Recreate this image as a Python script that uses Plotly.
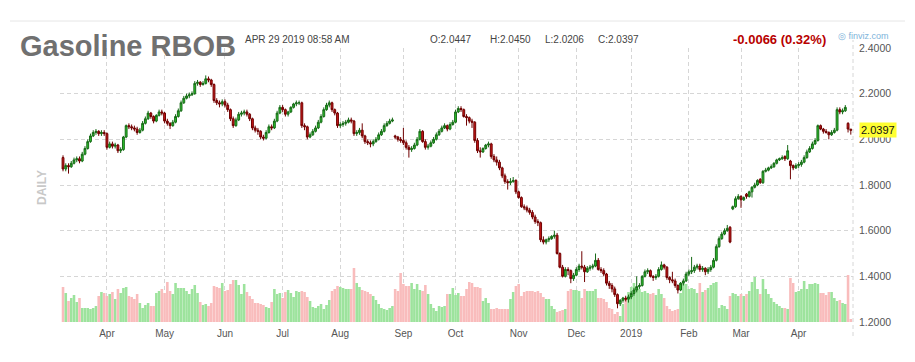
import pandas as pd
import plotly.graph_objects as go

# ---- trading calendar (category axis) ----
holidays = ["2018-03-30", "2018-05-28", "2018-07-04", "2018-09-03", "2018-11-22",
            "2018-12-25", "2019-01-01", "2019-01-21", "2019-02-18", "2019-04-19"]
dates = [d.strftime("%Y-%m-%d") for d in pd.bdate_range("2018-03-08", "2019-04-29")
         if d.strftime("%Y-%m-%d") not in holidays]

month_labels = ["Apr", "May", "Jun", "Jul", "Aug", "Sep", "Oct", "Nov", "Dec",
                "2019", "Feb", "Mar", "Apr"]
price_ticks = [1.2, 1.4, 1.6, 1.8, 2.0, 2.2, 2.4]

opens = [
    1.920, 1.870, 1.885, 1.880, 1.895, 1.910, 1.915, 1.905, 1.935, 1.960, 1.990, 2.015, 2.030, 2.035, 2.025, 2.030,
    2.025, 1.965, 1.980, 1.970, 1.975, 1.950, 1.955, 2.010, 2.060, 2.055, 2.050, 2.045, 2.030, 2.040, 2.070, 2.090, 2.115, 2.100, 2.080, 2.105, 2.120,
    2.115, 2.080, 2.070, 2.060, 2.075, 2.100, 2.125, 2.160, 2.180, 2.190, 2.195, 2.200, 2.245, 2.250, 2.240, 2.245, 2.265, 2.260, 2.240, 2.170, 2.160, 2.155,
    2.165, 2.150, 2.130, 2.090, 2.060, 2.085, 2.110, 2.115, 2.120, 2.110, 2.090, 2.050, 2.040, 2.035, 2.010, 2.005, 2.030, 2.055, 2.050, 2.080, 2.115,
    2.140, 2.130, 2.110, 2.120, 2.140, 2.155, 2.160, 2.160, 2.060, 2.055, 2.010, 2.020, 2.035, 2.050, 2.075, 2.100, 2.130, 2.150, 2.160, 2.130, 2.115,
    2.060, 2.065, 2.070, 2.075, 2.085, 2.080, 2.025, 2.030, 2.040, 2.015, 1.990, 1.985, 1.980, 1.990, 2.000, 2.020, 2.035, 2.060, 2.070, 2.080, 2.015, 2.010, 2.000,
    1.995, 1.985, 1.965, 1.955, 1.960, 1.975, 2.000, 2.035, 1.990, 1.965, 1.970, 1.985, 2.000, 2.020, 2.035, 2.050, 2.060, 2.045, 2.065,
    2.075, 2.120, 2.135, 2.130, 2.100, 2.095, 2.080, 2.075, 1.995, 1.950, 1.945, 1.960, 1.975, 1.980, 1.925, 1.910, 1.900, 1.875, 1.840, 1.815, 1.810, 1.815, 1.820,
    1.770, 1.745, 1.705, 1.700, 1.690, 1.680, 1.660, 1.640, 1.635, 1.560, 1.550, 1.560, 1.565, 1.575, 1.580, 1.500, 1.440, 1.400, 1.430, 1.425, 1.390,
    1.405, 1.430, 1.445, 1.440, 1.420, 1.435, 1.440, 1.445, 1.470, 1.430, 1.425, 1.410, 1.370, 1.360, 1.345, 1.320, 1.280, 1.295, 1.305, 1.300,
    1.310, 1.325, 1.340, 1.355, 1.360, 1.400, 1.420, 1.425, 1.400, 1.395, 1.400, 1.430, 1.450, 1.440, 1.395, 1.385, 1.380, 1.360, 1.340, 1.370, 1.380,
    1.410, 1.420, 1.425, 1.440, 1.445, 1.430, 1.435, 1.420, 1.430, 1.440, 1.470, 1.530, 1.565, 1.585, 1.600, 1.615, 1.695, 1.705, 1.740,
    1.750, 1.735, 1.760, 1.750, 1.770, 1.790, 1.800, 1.825, 1.810, 1.860, 1.865, 1.875, 1.880, 1.895, 1.910, 1.915, 1.925, 1.915, 1.905, 1.885, 1.875,
    1.885, 1.890, 1.900, 1.920, 1.945, 1.960, 1.980, 1.995, 2.060, 2.045, 2.035, 2.030, 2.020, 2.030, 2.040, 2.130, 2.120, 2.125, 2.070, 2.0447,
]
highs = [
    1.930, 1.895, 1.895, 1.905, 1.920, 1.925, 1.925, 1.945, 1.970, 2.000, 2.025, 2.040, 2.045, 2.040, 2.040, 2.040,
    2.030, 1.990, 1.990, 1.985, 1.980, 1.965, 2.015, 2.065, 2.070, 2.065, 2.060, 2.055, 2.050, 2.080, 2.100, 2.125, 2.120, 2.105, 2.110, 2.130, 2.130,
    2.120, 2.090, 2.075, 2.085, 2.110, 2.135, 2.170, 2.190, 2.200, 2.205, 2.210, 2.255, 2.260, 2.255, 2.255, 2.280, 2.275, 2.265, 2.245, 2.180, 2.170, 2.175,
    2.175, 2.160, 2.135, 2.100, 2.095, 2.120, 2.125, 2.130, 2.130, 2.115, 2.095, 2.060, 2.050, 2.040, 2.020, 2.040, 2.065, 2.065, 2.090, 2.125, 2.150,
    2.150, 2.135, 2.125, 2.145, 2.160, 2.170, 2.170, 2.165, 2.070, 2.060, 2.030, 2.045, 2.060, 2.085, 2.110, 2.140, 2.160, 2.170, 2.165, 2.135, 2.120,
    2.075, 2.080, 2.085, 2.095, 2.095, 2.085, 2.040, 2.050, 2.070, 2.020, 2.000, 1.995, 2.000, 2.010, 2.030, 2.045, 2.070, 2.080, 2.090, 2.095, 2.020, 2.015, 2.010,
    2.050, 1.995, 1.975, 1.970, 1.985, 2.010, 2.045, 2.040, 2.000, 1.980, 1.995, 2.010, 2.030, 2.045, 2.060, 2.070, 2.065, 2.075, 2.085,
    2.130, 2.145, 2.145, 2.135, 2.110, 2.100, 2.090, 2.080, 2.005, 1.965, 1.965, 1.980, 1.990, 1.985, 1.935, 1.925, 1.910, 1.880, 1.850, 1.825, 1.830, 1.835, 1.825,
    1.775, 1.750, 1.715, 1.710, 1.700, 1.690, 1.670, 1.650, 1.640, 1.575, 1.565, 1.575, 1.580, 1.600, 1.590, 1.505, 1.450, 1.440, 1.440, 1.430, 1.415,
    1.440, 1.455, 1.510, 1.450, 1.445, 1.450, 1.455, 1.500, 1.480, 1.440, 1.435, 1.415, 1.380, 1.370, 1.355, 1.325, 1.300, 1.310, 1.315, 1.320,
    1.335, 1.350, 1.400, 1.370, 1.405, 1.430, 1.435, 1.430, 1.405, 1.410, 1.440, 1.465, 1.455, 1.445, 1.400, 1.420, 1.390, 1.365, 1.375, 1.390, 1.420,
    1.430, 1.485, 1.450, 1.455, 1.455, 1.445, 1.440, 1.440, 1.450, 1.480, 1.540, 1.575, 1.595, 1.610, 1.625, 1.620, 1.710, 1.750, 1.760,
    1.755, 1.750, 1.765, 1.775, 1.795, 1.810, 1.825, 1.830, 1.865, 1.875, 1.880, 1.890, 1.900, 1.915, 1.920, 1.930, 1.930, 1.975, 1.910, 1.890, 1.895,
    1.900, 1.910, 1.930, 1.955, 1.970, 1.990, 2.005, 2.065, 2.065, 2.050, 2.045, 2.035, 2.040, 2.050, 2.140, 2.140, 2.135, 2.150, 2.075, 2.0450,
]
lows = [
    1.860, 1.860, 1.850, 1.875, 1.890, 1.900, 1.895, 1.900, 1.930, 1.955, 1.985, 2.010, 2.020, 2.015, 2.015, 2.015,
    1.955, 1.960, 1.960, 1.960, 1.940, 1.940, 1.950, 2.005, 2.045, 2.040, 2.035, 2.020, 2.025, 2.035, 2.065, 2.085, 2.090, 2.070, 2.075, 2.100, 2.105,
    2.070, 2.060, 2.045, 2.055, 2.070, 2.095, 2.120, 2.155, 2.175, 2.180, 2.190, 2.195, 2.235, 2.230, 2.235, 2.240, 2.250, 2.230, 2.160, 2.150, 2.140, 2.145,
    2.140, 2.120, 2.080, 2.050, 2.055, 2.080, 2.100, 2.105, 2.100, 2.080, 2.040, 2.030, 2.020, 2.000, 1.995, 2.000, 2.025, 2.040, 2.045, 2.075, 2.110,
    2.120, 2.100, 2.100, 2.115, 2.135, 2.145, 2.150, 2.050, 2.040, 2.000, 2.005, 2.015, 2.030, 2.045, 2.070, 2.095, 2.125, 2.140, 2.120, 2.105, 2.050,
    2.050, 2.055, 2.060, 2.070, 2.070, 2.015, 2.015, 2.020, 2.005, 1.980, 1.975, 1.965, 1.970, 1.985, 1.995, 2.015, 2.030, 2.055, 2.065, 2.075, 2.000, 1.990, 1.985,
    1.975, 1.955, 1.920, 1.945, 1.955, 1.970, 1.995, 1.985, 1.955, 1.955, 1.965, 1.980, 1.995, 2.015, 2.030, 2.045, 2.035, 2.040, 2.060,
    2.070, 2.115, 2.120, 2.095, 2.060, 2.070, 2.050, 1.985, 1.940, 1.920, 1.940, 1.955, 1.965, 1.915, 1.900, 1.885, 1.865, 1.830, 1.805, 1.780, 1.800, 1.810, 1.760,
    1.740, 1.700, 1.690, 1.680, 1.670, 1.650, 1.630, 1.620, 1.550, 1.540, 1.540, 1.550, 1.560, 1.565, 1.495, 1.435, 1.395, 1.395, 1.405, 1.370, 1.380,
    1.400, 1.420, 1.430, 1.375, 1.415, 1.425, 1.430, 1.440, 1.425, 1.415, 1.400, 1.360, 1.345, 1.330, 1.310, 1.260, 1.270, 1.285, 1.290, 1.285,
    1.300, 1.315, 1.330, 1.345, 1.355, 1.395, 1.410, 1.395, 1.380, 1.385, 1.395, 1.425, 1.430, 1.385, 1.370, 1.370, 1.350, 1.325, 1.335, 1.360, 1.375,
    1.400, 1.410, 1.415, 1.430, 1.420, 1.420, 1.405, 1.410, 1.420, 1.435, 1.465, 1.525, 1.560, 1.580, 1.595, 1.545, 1.690, 1.700, 1.735,
    1.700, 1.730, 1.740, 1.745, 1.745, 1.785, 1.795, 1.805, 1.805, 1.855, 1.860, 1.870, 1.875, 1.890, 1.905, 1.910, 1.905, 1.910, 1.825, 1.865, 1.870,
    1.875, 1.880, 1.895, 1.915, 1.940, 1.955, 1.975, 1.990, 2.040, 2.025, 2.025, 2.000, 2.015, 2.025, 2.035, 2.110, 2.110, 2.120, 2.030, 2.0206,
]
closes = [
    1.870, 1.885, 1.880, 1.895, 1.910, 1.915, 1.905, 1.935, 1.960, 1.990, 2.015, 2.030, 2.035, 2.025, 2.030, 2.025,
    1.965, 1.980, 1.970, 1.975, 1.950, 1.955, 2.010, 2.060, 2.055, 2.050, 2.045, 2.030, 2.040, 2.070, 2.090, 2.115, 2.100, 2.080, 2.105, 2.120, 2.115,
    2.080, 2.070, 2.060, 2.075, 2.100, 2.125, 2.160, 2.180, 2.190, 2.195, 2.200, 2.245, 2.250, 2.240, 2.245, 2.265, 2.260, 2.240, 2.170, 2.160, 2.155, 2.165,
    2.150, 2.130, 2.090, 2.060, 2.085, 2.110, 2.115, 2.120, 2.110, 2.090, 2.050, 2.040, 2.035, 2.010, 2.005, 2.030, 2.055, 2.050, 2.080, 2.115, 2.140,
    2.130, 2.110, 2.120, 2.140, 2.155, 2.160, 2.160, 2.060, 2.055, 2.010, 2.020, 2.035, 2.050, 2.075, 2.100, 2.130, 2.150, 2.160, 2.130, 2.115, 2.060,
    2.065, 2.070, 2.075, 2.085, 2.080, 2.025, 2.030, 2.040, 2.015, 1.990, 1.985, 1.980, 1.990, 2.000, 2.020, 2.035, 2.060, 2.070, 2.080, 2.085, 2.010, 2.000, 1.995,
    1.985, 1.965, 1.955, 1.960, 1.975, 2.000, 2.035, 1.990, 1.965, 1.970, 1.985, 2.000, 2.020, 2.035, 2.050, 2.060, 2.045, 2.065, 2.075,
    2.120, 2.135, 2.130, 2.100, 2.095, 2.080, 2.075, 1.995, 1.950, 1.945, 1.960, 1.975, 1.980, 1.925, 1.910, 1.900, 1.875, 1.840, 1.815, 1.810, 1.815, 1.820, 1.770,
    1.745, 1.705, 1.700, 1.690, 1.680, 1.660, 1.640, 1.635, 1.560, 1.550, 1.560, 1.565, 1.575, 1.580, 1.500, 1.440, 1.400, 1.430, 1.425, 1.390, 1.405,
    1.430, 1.445, 1.440, 1.420, 1.435, 1.440, 1.445, 1.470, 1.430, 1.425, 1.410, 1.370, 1.360, 1.345, 1.320, 1.280, 1.295, 1.305, 1.300, 1.310,
    1.325, 1.340, 1.355, 1.360, 1.400, 1.420, 1.425, 1.400, 1.395, 1.400, 1.430, 1.450, 1.440, 1.395, 1.385, 1.380, 1.360, 1.340, 1.370, 1.380, 1.410,
    1.420, 1.425, 1.440, 1.445, 1.430, 1.435, 1.420, 1.430, 1.440, 1.470, 1.530, 1.565, 1.585, 1.600, 1.610, 1.550, 1.705, 1.740, 1.750,
    1.735, 1.745, 1.750, 1.770, 1.790, 1.800, 1.820, 1.810, 1.860, 1.865, 1.875, 1.880, 1.895, 1.910, 1.915, 1.920, 1.915, 1.950, 1.885, 1.875, 1.885,
    1.890, 1.900, 1.920, 1.945, 1.960, 1.980, 1.995, 2.060, 2.045, 2.035, 2.030, 2.020, 2.030, 2.040, 2.130, 2.120, 2.125, 2.140, 2.045, 2.0397,
]
volumes = [
    35, 29, 21, 24, 27, 20, 24, 14, 14, 14, 13, 14, 16, 26, 30, 29,
    26, 28, 30, 23, 33, 29, 34, 35, 26, 25, 23, 28, 19, 14, 17, 19, 16, 16, 29, 31, 33,
    29, 40, 31, 28, 39, 34, 34, 34, 31, 28, 33, 37, 29, 20, 17, 18, 16, 19, 36, 35, 34, 39,
    31, 32, 38, 42, 42, 37, 28, 38, 30, 26, 23, 19, 19, 18, 17, 15, 14, 20, 33, 28, 29,
    24, 30, 32, 29, 25, 31, 30, 31, 30, 25, 21, 15, 14, 16, 18, 13, 17, 22, 31, 33, 36,
    35, 34, 33, 33, 33, 54, 39, 35, 32, 31, 30, 28, 26, 22, 18, 14, 13, 12, 14, 16, 33, 31, 49,
    38, 36, 36, 39, 33, 38, 32, 31, 37, 28, 18, 14, 11, 16, 15, 16, 28, 28, 34,
    27, 29, 26, 26, 33, 40, 39, 35, 35, 34, 21, 24, 19, 13, 13, 14, 13, 13, 13, 13, 23, 30, 36,
    38, 26, 30, 31, 31, 31, 30, 31, 29, 25, 23, 23, 16, 13, 10, 11, 12, 13, 31, 33, 32,
    32, 31, 24, 33, 31, 31, 31, 33, 24, 24, 23, 20, 14, 13, 8, 10, 6, 18, 24, 30,
    35, 39, 34, 33, 30, 31, 29, 28, 29, 27, 33, 28, 24, 16, 13, 11, 12, 13, 29, 38, 38,
    33, 34, 33, 29, 39, 30, 32, 34, 37, 39, 40, 14, 17, 16, 13, 26, 29, 28, 26,
    28, 26, 28, 31, 40, 45, 33, 28, 43, 33, 28, 24, 20, 18, 16, 14, 14, 13, 44, 39, 30,
    31, 33, 41, 33, 38, 38, 39, 38, 29, 29, 27, 30, 30, 24, 21, 22, 19, 18, 47, 3,
]

n = len(dates)
assert n == len(opens) == len(highs) == len(lows) == len(closes) == len(volumes), (
    n, len(opens), len(highs), len(lows), len(closes), len(volumes))

# first trading day of each month from April 2018
tickvals = []
seen = set()
for d in dates:
    ym = d[:7]
    if ym not in seen:
        seen.add(ym)
        if ym != "2018-03":
            tickvals.append(d)

vol_colors = ["#9de39d" if c >= o else "#f9bcbc" for o, c in zip(opens, closes)]

fig = go.Figure()
fig.add_trace(go.Bar(x=dates, y=volumes, marker=dict(color=vol_colors, line=dict(width=0)),
                     yaxis="y", hoverinfo="skip"))
fig.add_trace(go.Candlestick(
    x=dates, open=opens, high=highs, low=lows, close=closes, yaxis="y2",
    increasing=dict(fillcolor="#2cc42c", line=dict(color="#176a17", width=1)),
    decreasing=dict(fillcolor="#c81818", line=dict(color="#700000", width=1)),
    whiskerwidth=0))

grid_col = "#d6d6d6"
FONT = "Liberation Sans, Arial, Helvetica, sans-serif"

fig.update_layout(
    width=915, height=362,
    margin=dict(l=60, r=62, t=48, b=40, autoexpand=False),
    paper_bgcolor="white", plot_bgcolor="white",
    showlegend=False, bargap=0.06, boxgap=0.04,
    font=dict(family=FONT, color="#555555"),
    xaxis=dict(type="category", range=[-1.1, len(dates) - 0.2], automargin=False,
               tickmode="array", tickvals=tickvals, ticktext=month_labels,
               showgrid=True, gridcolor=grid_col, griddash="4px,3px", gridwidth=1,
               ticks="", ticklabelstandoff=4, tickfont=dict(size=10, color="#555555"),
               rangeslider=dict(visible=False), showline=False, zeroline=False),
    yaxis=dict(range=[0, 274], visible=False, showgrid=False, fixedrange=True),
    yaxis2=dict(overlaying="y", side="right", range=[1.2, 2.4], automargin=False,
                tickmode="array", tickvals=price_ticks,
                ticktext=[f"{v:.4f}" for v in price_ticks],
                showgrid=True, gridcolor=grid_col, griddash="4px,3px", gridwidth=1,
                ticks="", ticklabelstandoff=5, tickfont=dict(size=10.5, color="#555555"),
                showline=False, zeroline=False),
)

PW, PH, L, B = 793.0, 274.0, 60.0, 322.0
def px(x):
    return (x - L) / PW
def py(y):
    return (B - y) / PH

ann = [
    dict(text="Gasoline RBOB", x=px(18), y=py(46), size=29, color="#707070", weight="bold"),
    dict(text="APR 29 2019 08:58 AM", x=px(243), y=py(39), size=10, color="#444444", weight="normal"),
    dict(text="O:2.0447", x=px(428), y=py(39), size=10, color="#444444", weight="normal"),
    dict(text="H:2.0450", x=px(488), y=py(39), size=10, color="#444444", weight="normal"),
    dict(text="L:2.0206", x=px(543), y=py(39), size=10, color="#444444", weight="normal"),
    dict(text="C:2.0397", x=px(596), y=py(39), size=10, color="#444444", weight="normal"),
    dict(text="-0.0066 (0.32%)", x=px(731), y=py(39), size=13, color="#b80000", weight="bold"),
    dict(text="\u25ce finviz.com", x=px(836), y=py(36), size=9, color="#7db3da", weight="normal"),
]
for a in ann:
    fig.add_annotation(text=a["text"], xref="paper", yref="paper", x=a["x"], y=a["y"],
                       xanchor="left", yanchor="middle", showarrow=False,
                       font=dict(size=a["size"], color=a["color"], family=FONT, weight=a["weight"]))

fig.add_annotation(text="DAILY", xref="paper", yref="paper", x=px(42), y=py(188),
                   textangle=-90, showarrow=False, xanchor="center", yanchor="middle",
                   font=dict(size=12, color="#c8c8c8", family=FONT, weight="bold"))

fig.add_annotation(text=f"{closes[-1]:.4f}", xref="paper", yref="y2", x=1.0, y=closes[-1],
                   xanchor="left", yanchor="middle", xshift=6, showarrow=False,
                   bgcolor="#ffff33", borderpad=1,
                   font=dict(size=11, color="#111111", family=FONT))

fig.add_shape(type="line", xref="paper", yref="paper", x0=px(10), x1=px(905),
              y0=py(21), y1=py(21), line=dict(color="#e6e6e6", width=1))
fig.add_shape(type="line", xref="paper", yref="paper", x0=1, x1=1,
              y0=py(336), y1=py(40), line=dict(color=grid_col, width=1, dash="4px,3px"))

fig.write_html("out.html", config={"displayModeBar": False},
               post_script="document.body.style.margin='0';document.body.style.overflow='hidden';")
